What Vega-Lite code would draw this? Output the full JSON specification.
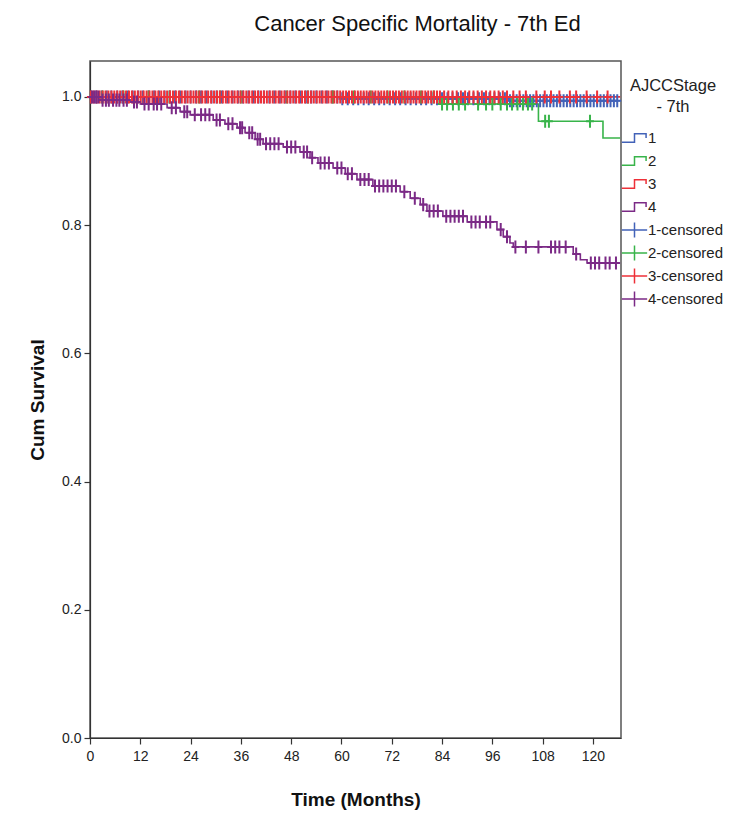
{
  "$schema": "https://vega.github.io/schema/vega-lite/v6.json",
  "autosize": {"type": "none"},
  "width": 531,
  "height": 677,
  "padding": {"left": 90, "top": 61, "right": 122, "bottom": 95},
  "background": "white",
  "title": {
    "text": "Cancer Specific Mortality - 7th Ed",
    "font": "Liberation Sans",
    "fontSize": 22,
    "fontWeight": "normal",
    "color": "#111",
    "anchor": "middle",
    "dx": 62,
    "baseline": "alphabetic",
    "offset": 8
  },
  "config": {
    "view": {"stroke": "#555", "strokeWidth": 1.5},
    "axis": {
      "grid": false,
      "domainColor": "#333",
      "domainWidth": 1.2,
      "tickColor": "#333",
      "tickWidth": 1.2,
      "tickSize": 6,
      "labelFont": "Liberation Sans",
      "labelFontSize": 14,
      "labelColor": "#222",
      "titleFont": "Liberation Sans",
      "titleFontSize": 19,
      "titleFontWeight": "bold",
      "titleColor": "#111"
    }
  },
  "resolve": {"legend": {"color": "independent"}},
  "datasets": {
    "lines": [
      {"g": "1", "t": 0, "s": 1}, {"g": "1", "t": 60, "s": 0.997}, {"g": "1", "t": 100, "s": 0.994}, {"g": "1", "t": 126.5, "s": 0.994},
      {"g": "2", "t": 0, "s": 1}, {"g": "2", "t": 83, "s": 0.989}, {"g": "2", "t": 107, "s": 0.962}, {"g": "2", "t": 122.4, "s": 0.936}, {"g": "2", "t": 126.5, "s": 0.936},
      {"g": "3", "t": 0, "s": 1}, {"g": "3", "t": 126.5, "s": 1},
      {"g": "4", "t": 0, "s": 1}, {"g": "4", "t": 2.4, "s": 0.995}, {"g": "4", "t": 9.5, "s": 0.992}, {"g": "4", "t": 12, "s": 0.989},
      {"g": "4", "t": 18.4, "s": 0.983}, {"g": "4", "t": 21.5, "s": 0.977}, {"g": "4", "t": 23.9, "s": 0.972}, {"g": "4", "t": 29.4, "s": 0.964},
      {"g": "4", "t": 32.2, "s": 0.958}, {"g": "4", "t": 35.1, "s": 0.952}, {"g": "4", "t": 37, "s": 0.944}, {"g": "4", "t": 39.4, "s": 0.934},
      {"g": "4", "t": 41.3, "s": 0.927}, {"g": "4", "t": 46.1, "s": 0.922}, {"g": "4", "t": 50.1, "s": 0.914}, {"g": "4", "t": 52.5, "s": 0.905},
      {"g": "4", "t": 54.4, "s": 0.897}, {"g": "4", "t": 58, "s": 0.889}, {"g": "4", "t": 60.9, "s": 0.88}, {"g": "4", "t": 63.7, "s": 0.871},
      {"g": "4", "t": 67.5, "s": 0.861}, {"g": "4", "t": 74, "s": 0.852}, {"g": "4", "t": 76.4, "s": 0.842}, {"g": "4", "t": 78.8, "s": 0.832},
      {"g": "4", "t": 80.4, "s": 0.822}, {"g": "4", "t": 84.2, "s": 0.814}, {"g": "4", "t": 90, "s": 0.805}, {"g": "4", "t": 97.1, "s": 0.793},
      {"g": "4", "t": 98.6, "s": 0.782}, {"g": "4", "t": 100.2, "s": 0.772}, {"g": "4", "t": 101, "s": 0.766}, {"g": "4", "t": 115.3, "s": 0.755},
      {"g": "4", "t": 117, "s": 0.746}, {"g": "4", "t": 118.6, "s": 0.741}, {"g": "4", "t": 126.5, "s": 0.741}
    ],
    "censored": [
      {"g": "1-censored", "t": 0.3, "s": 1}, {"g": "1-censored", "t": 1.5, "s": 1}, {"g": "1-censored", "t": 2.8, "s": 1}, {"g": "1-censored", "t": 4, "s": 1},
      {"g": "1-censored", "t": 5.1, "s": 1}, {"g": "1-censored", "t": 6.5, "s": 1}, {"g": "1-censored", "t": 7.7, "s": 1}, {"g": "1-censored", "t": 9, "s": 1},
      {"g": "1-censored", "t": 10.2, "s": 1}, {"g": "1-censored", "t": 11.5, "s": 1}, {"g": "1-censored", "t": 12.6, "s": 1}, {"g": "1-censored", "t": 14, "s": 1},
      {"g": "1-censored", "t": 15.3, "s": 1}, {"g": "1-censored", "t": 16.5, "s": 1}, {"g": "1-censored", "t": 17.8, "s": 1}, {"g": "1-censored", "t": 19, "s": 1},
      {"g": "1-censored", "t": 20.3, "s": 1}, {"g": "1-censored", "t": 21.5, "s": 1}, {"g": "1-censored", "t": 22.8, "s": 1}, {"g": "1-censored", "t": 24, "s": 1},
      {"g": "1-censored", "t": 25.3, "s": 1}, {"g": "1-censored", "t": 26.5, "s": 1}, {"g": "1-censored", "t": 27.8, "s": 1}, {"g": "1-censored", "t": 29, "s": 1},
      {"g": "1-censored", "t": 30.2, "s": 1}, {"g": "1-censored", "t": 31.5, "s": 1}, {"g": "1-censored", "t": 32.8, "s": 1}, {"g": "1-censored", "t": 34, "s": 1},
      {"g": "1-censored", "t": 35.3, "s": 1}, {"g": "1-censored", "t": 36.5, "s": 1}, {"g": "1-censored", "t": 37.8, "s": 1}, {"g": "1-censored", "t": 39, "s": 1},
      {"g": "1-censored", "t": 40.2, "s": 1}, {"g": "1-censored", "t": 41.5, "s": 1}, {"g": "1-censored", "t": 42.8, "s": 1}, {"g": "1-censored", "t": 44, "s": 1},
      {"g": "1-censored", "t": 45.3, "s": 1}, {"g": "1-censored", "t": 46.5, "s": 1}, {"g": "1-censored", "t": 47.8, "s": 1}, {"g": "1-censored", "t": 49, "s": 1},
      {"g": "1-censored", "t": 50.2, "s": 1}, {"g": "1-censored", "t": 51.5, "s": 1}, {"g": "1-censored", "t": 52.8, "s": 1}, {"g": "1-censored", "t": 54, "s": 1},
      {"g": "1-censored", "t": 55.3, "s": 1}, {"g": "1-censored", "t": 56.5, "s": 1}, {"g": "1-censored", "t": 57.8, "s": 1}, {"g": "1-censored", "t": 59, "s": 1},
      {"g": "1-censored", "t": 60.2, "s": 0.997}, {"g": "1-censored", "t": 61.5, "s": 0.997}, {"g": "1-censored", "t": 62.8, "s": 0.997}, {"g": "1-censored", "t": 64, "s": 0.997},
      {"g": "1-censored", "t": 65.3, "s": 0.997}, {"g": "1-censored", "t": 66.5, "s": 0.997}, {"g": "1-censored", "t": 67.8, "s": 0.997}, {"g": "1-censored", "t": 69, "s": 0.997},
      {"g": "1-censored", "t": 70.2, "s": 0.997}, {"g": "1-censored", "t": 71.5, "s": 0.997}, {"g": "1-censored", "t": 72.8, "s": 0.997}, {"g": "1-censored", "t": 74, "s": 0.997},
      {"g": "1-censored", "t": 75.3, "s": 0.997}, {"g": "1-censored", "t": 76.5, "s": 0.997}, {"g": "1-censored", "t": 77.8, "s": 0.997}, {"g": "1-censored", "t": 79, "s": 0.997},
      {"g": "1-censored", "t": 80.2, "s": 0.997}, {"g": "1-censored", "t": 81.5, "s": 0.997}, {"g": "1-censored", "t": 82.8, "s": 0.997}, {"g": "1-censored", "t": 84, "s": 0.997},
      {"g": "1-censored", "t": 85.3, "s": 0.997}, {"g": "1-censored", "t": 86.5, "s": 0.997}, {"g": "1-censored", "t": 87.8, "s": 0.997}, {"g": "1-censored", "t": 89, "s": 0.997},
      {"g": "1-censored", "t": 90.2, "s": 0.997}, {"g": "1-censored", "t": 91.5, "s": 0.997}, {"g": "1-censored", "t": 92.8, "s": 0.997}, {"g": "1-censored", "t": 94, "s": 0.997},
      {"g": "1-censored", "t": 95.3, "s": 0.997}, {"g": "1-censored", "t": 96.5, "s": 0.997}, {"g": "1-censored", "t": 97.8, "s": 0.997}, {"g": "1-censored", "t": 99, "s": 0.997},
      {"g": "1-censored", "t": 100.2, "s": 0.994}, {"g": "1-censored", "t": 101, "s": 0.994}, {"g": "1-censored", "t": 101.8, "s": 0.994}, {"g": "1-censored", "t": 102.6, "s": 0.994},
      {"g": "1-censored", "t": 103.4, "s": 0.994}, {"g": "1-censored", "t": 104.2, "s": 0.994}, {"g": "1-censored", "t": 105, "s": 0.994}, {"g": "1-censored", "t": 105.8, "s": 0.994},
      {"g": "1-censored", "t": 106.6, "s": 0.994}, {"g": "1-censored", "t": 107.4, "s": 0.994}, {"g": "1-censored", "t": 108.2, "s": 0.994}, {"g": "1-censored", "t": 109, "s": 0.994},
      {"g": "1-censored", "t": 109.8, "s": 0.994}, {"g": "1-censored", "t": 110.6, "s": 0.994}, {"g": "1-censored", "t": 111.4, "s": 0.994}, {"g": "1-censored", "t": 112.2, "s": 0.994},
      {"g": "1-censored", "t": 113, "s": 0.994}, {"g": "1-censored", "t": 113.8, "s": 0.994}, {"g": "1-censored", "t": 114.6, "s": 0.994}, {"g": "1-censored", "t": 115.4, "s": 0.994},
      {"g": "1-censored", "t": 116.2, "s": 0.994}, {"g": "1-censored", "t": 117, "s": 0.994}, {"g": "1-censored", "t": 117.8, "s": 0.994}, {"g": "1-censored", "t": 118.6, "s": 0.994},
      {"g": "1-censored", "t": 119.4, "s": 0.994}, {"g": "1-censored", "t": 120.2, "s": 0.994}, {"g": "1-censored", "t": 121, "s": 0.994}, {"g": "1-censored", "t": 121.8, "s": 0.994},
      {"g": "1-censored", "t": 122.6, "s": 0.994}, {"g": "1-censored", "t": 123.4, "s": 0.994}, {"g": "1-censored", "t": 124.2, "s": 0.994}, {"g": "1-censored", "t": 125, "s": 0.994},
      {"g": "1-censored", "t": 125.8, "s": 0.994},
      {"g": "2-censored", "t": 3, "s": 1}, {"g": "2-censored", "t": 8, "s": 1}, {"g": "2-censored", "t": 14, "s": 1}, {"g": "2-censored", "t": 19, "s": 1},
      {"g": "2-censored", "t": 26, "s": 1}, {"g": "2-censored", "t": 31, "s": 1}, {"g": "2-censored", "t": 36, "s": 1}, {"g": "2-censored", "t": 47, "s": 1},
      {"g": "2-censored", "t": 52, "s": 1}, {"g": "2-censored", "t": 58, "s": 1}, {"g": "2-censored", "t": 63, "s": 1}, {"g": "2-censored", "t": 67, "s": 1},
      {"g": "2-censored", "t": 71, "s": 1}, {"g": "2-censored", "t": 75, "s": 1}, {"g": "2-censored", "t": 79, "s": 1}, {"g": "2-censored", "t": 82, "s": 1},
      {"g": "2-censored", "t": 84, "s": 0.989}, {"g": "2-censored", "t": 85.2, "s": 0.989}, {"g": "2-censored", "t": 86.6, "s": 0.989}, {"g": "2-censored", "t": 88, "s": 0.989},
      {"g": "2-censored", "t": 89.5, "s": 0.989}, {"g": "2-censored", "t": 92.6, "s": 0.989}, {"g": "2-censored", "t": 94.5, "s": 0.989}, {"g": "2-censored", "t": 96, "s": 0.989},
      {"g": "2-censored", "t": 98, "s": 0.989}, {"g": "2-censored", "t": 99.5, "s": 0.989}, {"g": "2-censored", "t": 100.7, "s": 0.989}, {"g": "2-censored", "t": 102, "s": 0.989},
      {"g": "2-censored", "t": 103.3, "s": 0.989}, {"g": "2-censored", "t": 104.5, "s": 0.989}, {"g": "2-censored", "t": 105.5, "s": 0.989},
      {"g": "2-censored", "t": 108.6, "s": 0.962}, {"g": "2-censored", "t": 109.5, "s": 0.962}, {"g": "2-censored", "t": 119.3, "s": 0.962},
      {"g": "3-censored", "t": 0.2, "s": 1}, {"g": "3-censored", "t": 0.9, "s": 1}, {"g": "3-censored", "t": 1.6, "s": 1}, {"g": "3-censored", "t": 2.3, "s": 1},
      {"g": "3-censored", "t": 3.0, "s": 1}, {"g": "3-censored", "t": 3.7, "s": 1}, {"g": "3-censored", "t": 4.4, "s": 1}, {"g": "3-censored", "t": 5.1, "s": 1},
      {"g": "3-censored", "t": 5.8, "s": 1}, {"g": "3-censored", "t": 6.5, "s": 1}, {"g": "3-censored", "t": 7.2, "s": 1}, {"g": "3-censored", "t": 7.9, "s": 1},
      {"g": "3-censored", "t": 8.6, "s": 1}, {"g": "3-censored", "t": 9.3, "s": 1}, {"g": "3-censored", "t": 10, "s": 1}, {"g": "3-censored", "t": 10.7, "s": 1},
      {"g": "3-censored", "t": 11.4, "s": 1}, {"g": "3-censored", "t": 12.1, "s": 1}, {"g": "3-censored", "t": 12.8, "s": 1}, {"g": "3-censored", "t": 13.5, "s": 1},
      {"g": "3-censored", "t": 14.2, "s": 1}, {"g": "3-censored", "t": 14.9, "s": 1}, {"g": "3-censored", "t": 15.6, "s": 1}, {"g": "3-censored", "t": 16.3, "s": 1},
      {"g": "3-censored", "t": 17, "s": 1}, {"g": "3-censored", "t": 17.7, "s": 1}, {"g": "3-censored", "t": 18.4, "s": 1}, {"g": "3-censored", "t": 19.1, "s": 1},
      {"g": "3-censored", "t": 19.8, "s": 1}, {"g": "3-censored", "t": 20.5, "s": 1}, {"g": "3-censored", "t": 21.2, "s": 1}, {"g": "3-censored", "t": 21.9, "s": 1},
      {"g": "3-censored", "t": 22.6, "s": 1}, {"g": "3-censored", "t": 23.3, "s": 1}, {"g": "3-censored", "t": 24, "s": 1}, {"g": "3-censored", "t": 24.7, "s": 1},
      {"g": "3-censored", "t": 25.4, "s": 1}, {"g": "3-censored", "t": 26.1, "s": 1}, {"g": "3-censored", "t": 26.8, "s": 1}, {"g": "3-censored", "t": 27.5, "s": 1},
      {"g": "3-censored", "t": 28.2, "s": 1}, {"g": "3-censored", "t": 28.9, "s": 1}, {"g": "3-censored", "t": 29.6, "s": 1}, {"g": "3-censored", "t": 30.3, "s": 1},
      {"g": "3-censored", "t": 31, "s": 1}, {"g": "3-censored", "t": 31.7, "s": 1}, {"g": "3-censored", "t": 32.4, "s": 1}, {"g": "3-censored", "t": 33.1, "s": 1},
      {"g": "3-censored", "t": 33.8, "s": 1}, {"g": "3-censored", "t": 34.5, "s": 1}, {"g": "3-censored", "t": 35.2, "s": 1}, {"g": "3-censored", "t": 35.9, "s": 1},
      {"g": "3-censored", "t": 36.6, "s": 1}, {"g": "3-censored", "t": 37.3, "s": 1}, {"g": "3-censored", "t": 38, "s": 1}, {"g": "3-censored", "t": 38.7, "s": 1},
      {"g": "3-censored", "t": 39.4, "s": 1}, {"g": "3-censored", "t": 40.1, "s": 1}, {"g": "3-censored", "t": 40.8, "s": 1}, {"g": "3-censored", "t": 41.5, "s": 1},
      {"g": "3-censored", "t": 42.2, "s": 1}, {"g": "3-censored", "t": 42.9, "s": 1}, {"g": "3-censored", "t": 43.6, "s": 1}, {"g": "3-censored", "t": 44.3, "s": 1},
      {"g": "3-censored", "t": 45, "s": 1}, {"g": "3-censored", "t": 45.7, "s": 1}, {"g": "3-censored", "t": 46.4, "s": 1}, {"g": "3-censored", "t": 47.1, "s": 1},
      {"g": "3-censored", "t": 47.8, "s": 1}, {"g": "3-censored", "t": 48.5, "s": 1}, {"g": "3-censored", "t": 49.2, "s": 1}, {"g": "3-censored", "t": 49.9, "s": 1},
      {"g": "3-censored", "t": 50.6, "s": 1}, {"g": "3-censored", "t": 51.3, "s": 1}, {"g": "3-censored", "t": 52, "s": 1}, {"g": "3-censored", "t": 52.7, "s": 1},
      {"g": "3-censored", "t": 53.4, "s": 1}, {"g": "3-censored", "t": 54.1, "s": 1}, {"g": "3-censored", "t": 54.8, "s": 1}, {"g": "3-censored", "t": 55.5, "s": 1},
      {"g": "3-censored", "t": 56.2, "s": 1}, {"g": "3-censored", "t": 56.9, "s": 1}, {"g": "3-censored", "t": 57.6, "s": 1}, {"g": "3-censored", "t": 58.3, "s": 1},
      {"g": "3-censored", "t": 59, "s": 1}, {"g": "3-censored", "t": 59.7, "s": 1}, {"g": "3-censored", "t": 60.4, "s": 1}, {"g": "3-censored", "t": 61.1, "s": 1},
      {"g": "3-censored", "t": 61.8, "s": 1}, {"g": "3-censored", "t": 62.5, "s": 1}, {"g": "3-censored", "t": 63.2, "s": 1}, {"g": "3-censored", "t": 63.9, "s": 1},
      {"g": "3-censored", "t": 64.6, "s": 1}, {"g": "3-censored", "t": 65.3, "s": 1}, {"g": "3-censored", "t": 66, "s": 1}, {"g": "3-censored", "t": 66.7, "s": 1},
      {"g": "3-censored", "t": 67.4, "s": 1}, {"g": "3-censored", "t": 68.1, "s": 1}, {"g": "3-censored", "t": 68.8, "s": 1}, {"g": "3-censored", "t": 69.5, "s": 1},
      {"g": "3-censored", "t": 70.2, "s": 1}, {"g": "3-censored", "t": 70.9, "s": 1}, {"g": "3-censored", "t": 71.6, "s": 1}, {"g": "3-censored", "t": 72.3, "s": 1},
      {"g": "3-censored", "t": 73, "s": 1}, {"g": "3-censored", "t": 73.7, "s": 1}, {"g": "3-censored", "t": 74.4, "s": 1}, {"g": "3-censored", "t": 75.1, "s": 1},
      {"g": "3-censored", "t": 75.8, "s": 1}, {"g": "3-censored", "t": 76.5, "s": 1}, {"g": "3-censored", "t": 77.2, "s": 1}, {"g": "3-censored", "t": 77.9, "s": 1},
      {"g": "3-censored", "t": 78.6, "s": 1}, {"g": "3-censored", "t": 79.3, "s": 1}, {"g": "3-censored", "t": 80, "s": 1}, {"g": "3-censored", "t": 80.7, "s": 1},
      {"g": "3-censored", "t": 81.4, "s": 1}, {"g": "3-censored", "t": 82.1, "s": 1}, {"g": "3-censored", "t": 82.8, "s": 1}, {"g": "3-censored", "t": 83.5, "s": 1},
      {"g": "3-censored", "t": 84.5, "s": 1}, {"g": "3-censored", "t": 85.5, "s": 1}, {"g": "3-censored", "t": 86.5, "s": 1}, {"g": "3-censored", "t": 87.5, "s": 1},
      {"g": "3-censored", "t": 88.5, "s": 1}, {"g": "3-censored", "t": 89.5, "s": 1}, {"g": "3-censored", "t": 90.5, "s": 1}, {"g": "3-censored", "t": 91.5, "s": 1},
      {"g": "3-censored", "t": 92.5, "s": 1}, {"g": "3-censored", "t": 93.5, "s": 1}, {"g": "3-censored", "t": 94.5, "s": 1}, {"g": "3-censored", "t": 95.5, "s": 1},
      {"g": "3-censored", "t": 96.5, "s": 1}, {"g": "3-censored", "t": 97.5, "s": 1}, {"g": "3-censored", "t": 98.5, "s": 1}, {"g": "3-censored", "t": 99.5, "s": 1},
      {"g": "3-censored", "t": 101, "s": 1}, {"g": "3-censored", "t": 102.5, "s": 1}, {"g": "3-censored", "t": 104, "s": 1}, {"g": "3-censored", "t": 106.5, "s": 1},
      {"g": "3-censored", "t": 108.5, "s": 1}, {"g": "3-censored", "t": 110, "s": 1}, {"g": "3-censored", "t": 112, "s": 1}, {"g": "3-censored", "t": 114.5, "s": 1},
      {"g": "3-censored", "t": 116, "s": 1}, {"g": "3-censored", "t": 118.5, "s": 1}, {"g": "3-censored", "t": 121, "s": 1}, {"g": "3-censored", "t": 123.5, "s": 1},
      {"g": "4-censored", "t": 0.5, "s": 1}, {"g": "4-censored", "t": 1, "s": 1}, {"g": "4-censored", "t": 1.5, "s": 1}, {"g": "4-censored", "t": 2, "s": 1},
      {"g": "4-censored", "t": 3, "s": 0.995}, {"g": "4-censored", "t": 3.8, "s": 0.995}, {"g": "4-censored", "t": 4.5, "s": 0.995}, {"g": "4-censored", "t": 5.5, "s": 0.995},
      {"g": "4-censored", "t": 6.3, "s": 0.995}, {"g": "4-censored", "t": 7, "s": 0.995}, {"g": "4-censored", "t": 8, "s": 0.995}, {"g": "4-censored", "t": 8.8, "s": 0.995},
      {"g": "4-censored", "t": 10.5, "s": 0.992}, {"g": "4-censored", "t": 11.2, "s": 0.992}, {"g": "4-censored", "t": 13, "s": 0.989}, {"g": "4-censored", "t": 14, "s": 0.989},
      {"g": "4-censored", "t": 15.2, "s": 0.989}, {"g": "4-censored", "t": 16, "s": 0.989}, {"g": "4-censored", "t": 17, "s": 0.989}, {"g": "4-censored", "t": 19.5, "s": 0.983},
      {"g": "4-censored", "t": 20.5, "s": 0.983}, {"g": "4-censored", "t": 22.5, "s": 0.977}, {"g": "4-censored", "t": 23.2, "s": 0.977}, {"g": "4-censored", "t": 25, "s": 0.972},
      {"g": "4-censored", "t": 26.5, "s": 0.972}, {"g": "4-censored", "t": 27.5, "s": 0.972}, {"g": "4-censored", "t": 28.5, "s": 0.972}, {"g": "4-censored", "t": 30.2, "s": 0.964},
      {"g": "4-censored", "t": 31, "s": 0.964}, {"g": "4-censored", "t": 33, "s": 0.958}, {"g": "4-censored", "t": 34, "s": 0.958}, {"g": "4-censored", "t": 35.8, "s": 0.952},
      {"g": "4-censored", "t": 36.3, "s": 0.952}, {"g": "4-censored", "t": 38, "s": 0.944}, {"g": "4-censored", "t": 38.7, "s": 0.944}, {"g": "4-censored", "t": 40, "s": 0.934},
      {"g": "4-censored", "t": 40.6, "s": 0.934}, {"g": "4-censored", "t": 42, "s": 0.927}, {"g": "4-censored", "t": 43, "s": 0.927}, {"g": "4-censored", "t": 44, "s": 0.927},
      {"g": "4-censored", "t": 45, "s": 0.927}, {"g": "4-censored", "t": 47, "s": 0.922}, {"g": "4-censored", "t": 48, "s": 0.922}, {"g": "4-censored", "t": 49, "s": 0.922},
      {"g": "4-censored", "t": 51, "s": 0.914}, {"g": "4-censored", "t": 51.8, "s": 0.914}, {"g": "4-censored", "t": 53, "s": 0.905}, {"g": "4-censored", "t": 55, "s": 0.897},
      {"g": "4-censored", "t": 56, "s": 0.897}, {"g": "4-censored", "t": 57, "s": 0.897}, {"g": "4-censored", "t": 59, "s": 0.889}, {"g": "4-censored", "t": 60, "s": 0.889},
      {"g": "4-censored", "t": 61.5, "s": 0.88}, {"g": "4-censored", "t": 62.5, "s": 0.88}, {"g": "4-censored", "t": 64.5, "s": 0.871}, {"g": "4-censored", "t": 65.5, "s": 0.871},
      {"g": "4-censored", "t": 66.5, "s": 0.871}, {"g": "4-censored", "t": 68, "s": 0.861}, {"g": "4-censored", "t": 69, "s": 0.861}, {"g": "4-censored", "t": 70, "s": 0.861},
      {"g": "4-censored", "t": 71, "s": 0.861}, {"g": "4-censored", "t": 72, "s": 0.861}, {"g": "4-censored", "t": 73, "s": 0.861}, {"g": "4-censored", "t": 75, "s": 0.852},
      {"g": "4-censored", "t": 77.5, "s": 0.842}, {"g": "4-censored", "t": 79.5, "s": 0.832}, {"g": "4-censored", "t": 81, "s": 0.822}, {"g": "4-censored", "t": 82, "s": 0.822},
      {"g": "4-censored", "t": 83, "s": 0.822}, {"g": "4-censored", "t": 85, "s": 0.814}, {"g": "4-censored", "t": 86, "s": 0.814}, {"g": "4-censored", "t": 87, "s": 0.814},
      {"g": "4-censored", "t": 88, "s": 0.814}, {"g": "4-censored", "t": 89, "s": 0.814}, {"g": "4-censored", "t": 91, "s": 0.805}, {"g": "4-censored", "t": 92, "s": 0.805},
      {"g": "4-censored", "t": 93, "s": 0.805}, {"g": "4-censored", "t": 94.5, "s": 0.805}, {"g": "4-censored", "t": 95.5, "s": 0.805}, {"g": "4-censored", "t": 98, "s": 0.793},
      {"g": "4-censored", "t": 99.5, "s": 0.782}, {"g": "4-censored", "t": 101.5, "s": 0.766}, {"g": "4-censored", "t": 104, "s": 0.766}, {"g": "4-censored", "t": 107, "s": 0.766},
      {"g": "4-censored", "t": 110, "s": 0.766}, {"g": "4-censored", "t": 111, "s": 0.766}, {"g": "4-censored", "t": 112, "s": 0.766}, {"g": "4-censored", "t": 113.5, "s": 0.766},
      {"g": "4-censored", "t": 116, "s": 0.755}, {"g": "4-censored", "t": 119.5, "s": 0.741}, {"g": "4-censored", "t": 120.5, "s": 0.741}, {"g": "4-censored", "t": 121.5, "s": 0.741},
      {"g": "4-censored", "t": 123, "s": 0.741}, {"g": "4-censored", "t": 124, "s": 0.741}, {"g": "4-censored", "t": 125.5, "s": 0.741}
    ]
  },
  "encoding": {
    "x": {
      "field": "t", "type": "quantitative",
      "scale": {"domain": [0, 126.7], "nice": false, "zero": false},
      "axis": {"title": "Time (Months)", "values": [0, 12, 24, 36, 48, 60, 72, 84, 96, 108, 120], "labelPadding": 5, "titlePadding": 27, "labelFlush": false}
    },
    "y": {
      "field": "s", "type": "quantitative",
      "scale": {"domain": [0, 1.056], "nice": false, "zero": false},
      "axis": {"title": "Cum Survival", "values": [0, 0.2, 0.4, 0.6, 0.8, 1.0], "format": ".1f", "labelPadding": 3, "titlePadding": 14}
    }
  },
  "layer": [
    {
      "data": {"name": "lines"},
      "mark": {"type": "line", "interpolate": "step-after", "strokeWidth": 1.6},
      "encoding": {
        "color": {
          "field": "g", "type": "nominal",
          "scale": {
            "domain": ["1", "2", "3", "4", "1-censored", "2-censored", "3-censored", "4-censored"],
            "range": ["#4262b8", "#38b44a", "#ee3038", "#7b2a86", "#4262b8", "#38b44a", "#ee3038", "#7b2a86"]
          },
          "legend": null
        }
      }
    },
    {
      "data": {"name": "censored"},
      "mark": {"type": "point", "shape": "M-0.6,0H0.6M0,-1V1", "size": 170, "filled": false, "strokeWidth": 2, "opacity": 1},
      "encoding": {
        "color": {
          "field": "g", "type": "nominal",
          "scale": {
            "domain": ["1", "2", "3", "4", "1-censored", "2-censored", "3-censored", "4-censored"],
            "range": ["#4262b8", "#38b44a", "#ee3038", "#7b2a86", "#4262b8", "#38b44a", "#ee3038", "#7b2a86"]
          },
          "legend": {
            "title": ["AJCCStage", " - 7th"],
            "orient": "none",
            "legendX": 533,
            "legendY": 17,
            "padding": 0,
            "titleFont": "Liberation Sans",
            "titleFontSize": 16.5,
            "titleFontWeight": "normal",
            "titleColor": "#222",
            "titleLineHeight": 21,
            "titleAnchor": "middle",
            "titleAlign": "center",
            "titlePadding": 11,
            "labelFont": "Liberation Sans",
            "labelFontSize": 15,
            "labelColor": "#222",
            "labelOffset": 2,
            "symbolSize": 460,
            "symbolStrokeWidth": 1.5,
            "gridAlign": "all",
            "rowPadding": 0,
            "symbolFillColor": "transparent",
            "symbolOpacity": 1,
            "encoding": {
              "symbols": {
                "shape": {"value": {"expr": "indexof(datum.label, 'censored') >= 0 ? 'M-1.18,0H1.18M0,-0.7V0.7' : 'M-1.18,0.39H0V-0.39H1.08V0'"}},
                "fill": {"value": "transparent"},
                "strokeWidth": {"value": 1.5}
              }
            }
          }
        }
      }
    }
  ]
}
